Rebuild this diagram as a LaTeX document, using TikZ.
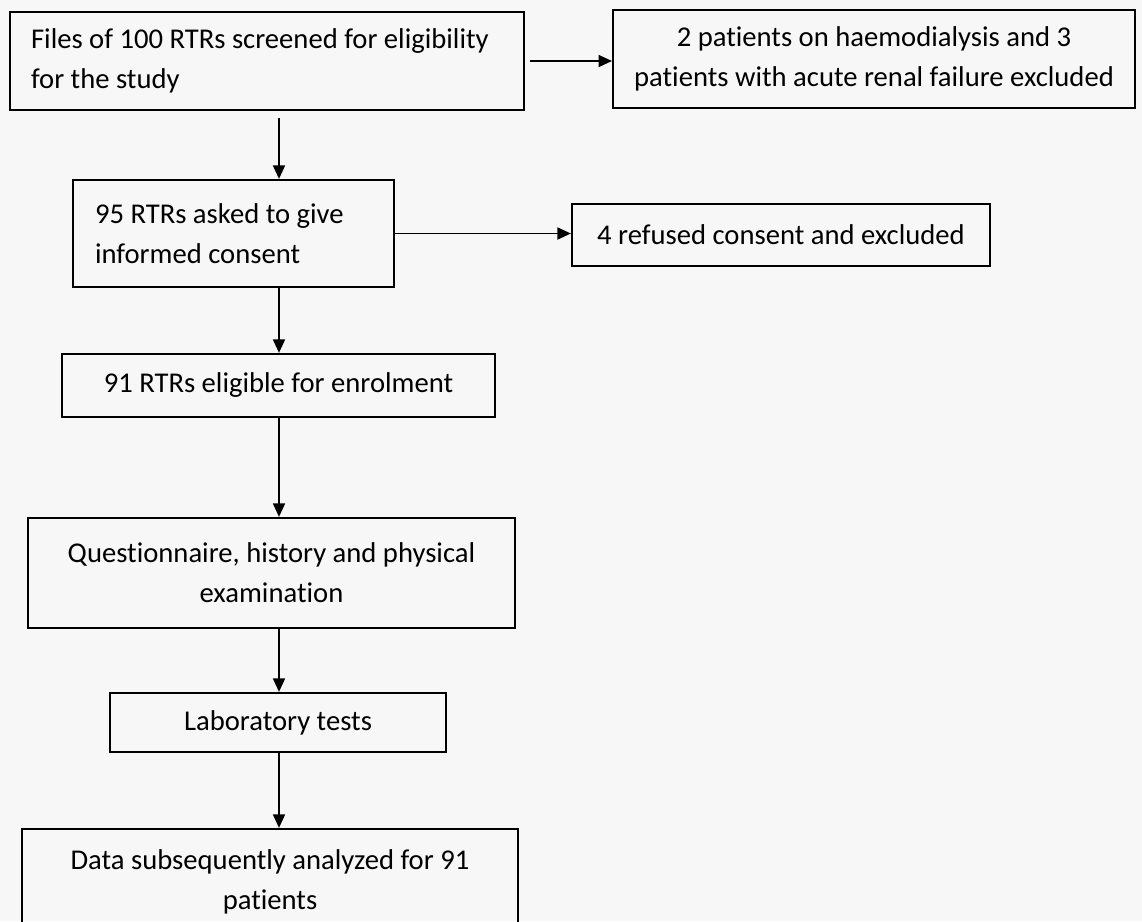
\documentclass[tikz,border=0pt]{standalone}
\usepackage{fontspec}
\setmainfont{Carlito}[Ligatures=NoCommon]
\usetikzlibrary{arrows.meta}
\tikzset{box/.style={draw, line width=1.3pt, inner xsep=0.42cm, inner ysep=0pt,
   font=\fontsize{16.3}{22.7}\selectfont},
 arr/.style={draw, line width=1pt, -{Triangle[length=0.27cm,width=0.24cm]}},
 }

\begin{document}
\begin{tikzpicture}[x=0.02cm,y=-0.02cm]
    \useasboundingbox[fill=black!3] (0,0) rectangle (1142,921);
    \node[box, minimum width=10.28cm, minimum height=1.96cm, text width=9.44cm, align=flush left] (screen) at (267,61)
        {Files of 100 RTRs screened for eligibility\\for the study};
    \node[box, minimum width=10.4cm, minimum height=1.96cm, align=center] (excl) at (874,59)
        {2 patients on haemodialysis and 3\\patients with acute renal failure excluded};
    \node[box, minimum width=6.42cm, minimum height=2.14cm, text width=5.54cm, align=flush left] (consent) at (233.5,233.5)
        {95 RTRs asked to give\\informed consent};
    \node[box, minimum width=8.36cm, minimum height=1.24cm] (refused) at (781,235)
        {4 refused consent and excluded};
    \node[box, minimum width=8.66cm, minimum height=1.26cm] (eligible) at (278.5,385.5)
        {91 RTRs eligible for enrolment};
    \node[box, minimum width=9.74cm, minimum height=2.2cm, align=center] (exam) at (271.5,573)
        {Questionnaire, history and physical\\examination};
    \node[box, minimum width=6.72cm, minimum height=1.18cm] (lab) at (278,722.5)
        {Laboratory tests};
    \node[box, minimum width=9.92cm, minimum height=2.12cm, align=center] (data) at (270,882)
        {Data subsequently analyzed for 91\\patients};
    \coordinate (spine) at (279,0);
    \draw[arr, shorten <=0.14cm] (screen.south -| spine) -- (consent.north -| spine);
    \draw[arr] (consent.south -| spine) -- (eligible.north -| spine);
    \draw[arr] (eligible.south -| spine) -- (exam.north -| spine);
    \draw[arr] (exam.south -| spine) -- (lab.north -| spine);
    \draw[arr] (lab.south -| spine) -- (data.north -| spine);
    \draw[arr, shorten <=0.1cm] (screen.east) -- (screen.east -| excl.west);
    \draw[arr] (consent.east) -- (consent.east -| refused.west);
\end{tikzpicture}
\end{document}
